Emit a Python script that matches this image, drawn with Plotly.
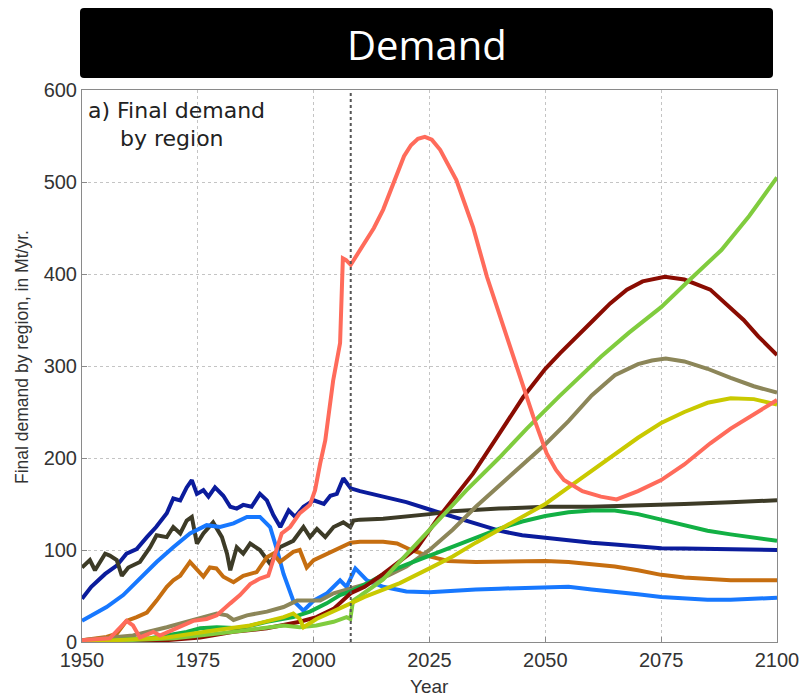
import plotly.graph_objects as go

# ---------------- data ----------------
TITLE = "Demand"
X_TICKS = [1950, 1975, 2000, 2025, 2050, 2075, 2100]
Y_TICKS = [0, 100, 200, 300, 400, 500, 600]

blue_dark_x = [1950, 1952, 1955, 1957.5, 1959.6, 1961.8, 1964, 1966, 1968.3, 1969.7, 1971.2, 1972.6, 1973.7,
               1974.8, 1976.2, 1977.3, 1978.7, 1980.5, 1982, 1983.4, 1984.8, 1986.6, 1988.4, 1989.9, 1991.3,
               1992.8, 1994.6, 1996, 1997.8, 2000, 2002.2, 2003.6, 2005, 2006.4, 2008,
               2010, 2015, 2020, 2025, 2030, 2035, 2040, 2045, 2050, 2055, 2060, 2065, 2070, 2075, 2080,
               2085, 2090, 2095, 2100]
blue_dark_y = [47, 60, 74, 83, 96, 101, 114, 125, 140, 156, 154, 168, 176,
               161, 165, 158, 168, 159, 147, 145, 149, 147, 161, 154, 138,
               125, 143, 136, 147, 154, 150, 159, 161, 178, 167,
               164, 158, 152, 144, 136, 128, 121, 116, 113, 110, 108, 106, 104, 102, 101.5,
               101, 100.5, 100, 100]

olive_x = [1950, 1951.7, 1952.8, 1953.9, 1955, 1956, 1957.5, 1958.6, 1960, 1962.5, 1964.7, 1966.1, 1968.3,
           1969.7, 1971.2, 1972.6, 1973.7, 1974.8, 1976.2, 1978.3, 1980.2, 1981.3, 1982, 1983.4, 1984.8,
           1986.3, 1988.4, 1990.6, 1992.7, 1995.6, 1997.8, 1999.2, 2000.7, 2002.5, 2004.3, 2006.4, 2007.9,
           2008.6, 2010, 2015, 2020, 2025, 2030, 2035, 2040, 2045, 2050, 2060, 2070, 2080, 2090, 2100]
olive_y = [81, 89, 78, 87, 96, 94, 89, 72, 81, 87, 103, 116, 114,
           125, 118, 132, 136, 107, 118, 130, 114, 96, 78, 103, 96,
           107, 100, 85, 103, 110, 125, 114, 123, 114, 125, 130, 125,
           132, 133, 134, 136, 139, 142, 144, 145, 146, 147, 147, 148, 150, 152, 154]

blue_light_x = [1950, 1955.3, 1958.9, 1962.5, 1966.1, 1969.7, 1973.3, 1976.9, 1979.8, 1982.7, 1985.6, 1988.4,
                1990.6, 1992.1, 1993.5, 1995.6, 1997.8, 2000, 2002.9, 2005.7, 2007.1, 2009, 2011.5, 2015,
                2020, 2025, 2030, 2035, 2040, 2045, 2050, 2055, 2060, 2065, 2070, 2075, 2080, 2085, 2090,
                2095, 2100]
blue_light_y = [23, 38, 51, 69, 87, 103, 118, 127, 125, 129, 136, 136,
                125, 100, 74, 45, 34, 45, 53, 67, 60, 80, 67, 60,
                55, 54, 56, 57, 58, 59, 60, 60, 57, 55, 52, 49, 47, 46, 46,
                47, 48]

orange_x = [1950, 1955.3, 1957.5, 1959.6, 1961.8, 1964, 1966.1, 1968.3, 1969.7, 1971.2, 1973.3, 1974.8, 1976.2,
            1977.6, 1979, 1980.5, 1982.7, 1984.8, 1987.7, 1989.9, 1991.3, 1992.7, 1995.6, 1997, 1998.5, 2000,
            2002.9, 2005.7, 2008, 2010, 2015, 2018, 2021, 2025, 2029, 2035, 2040, 2045, 2050, 2055, 2060,
            2065, 2070, 2075, 2080, 2085, 2090, 2095, 2100]
orange_y = [2, 5.5, 9, 23, 27, 32, 45, 60, 67, 72, 87, 78, 71,
            81, 80, 71, 65, 72, 76, 92, 96, 87, 98, 100, 81, 89,
            96, 103, 108, 109, 109, 107, 100, 93, 88, 87, 87.5, 88, 88, 87, 85,
            82, 78, 73, 70, 68, 67, 67, 67]

salmon_x = [1950, 1956, 1959.6, 1961, 1962.5, 1965.4, 1966.8, 1969.7, 1971.9, 1974, 1976.9, 1979.1, 1982,
            1984.1, 1986.3, 1988.4, 1990.2, 1992, 1993.1, 1994.9, 1997, 1999.2, 2000.3, 2001.4, 2002.5,
            2004.2, 2005.7, 2006.3, 2007, 2008, 2011, 2013, 2015, 2017.6, 2019.5, 2021, 2022.5, 2024,
            2025.5, 2027.3, 2029, 2030.8, 2032.5, 2034.4, 2037.4, 2040.2, 2043.8, 2047.4, 2050.3, 2052.3,
            2054, 2058, 2062, 2065.4, 2070, 2075, 2080, 2085.6, 2090, 2095, 2100]
salmon_y = [2, 4, 23, 18, 5, 11, 7, 13, 18, 23, 25, 29, 42,
            51, 63, 69, 72, 100, 118, 125, 140, 149, 165, 194, 219,
            284, 325, 417, 415, 410, 434, 450, 470, 505, 528, 540, 547, 549,
            546, 535, 520, 502, 478, 451, 397, 354, 299, 245, 205, 187,
            176, 164, 158, 155, 164, 176, 193, 216, 232, 248, 263]

darkred_x = [1950, 1968.3, 1975.5, 1982.7, 1989.9, 1997, 2000.6, 2004.3, 2008, 2011, 2015, 2020, 2022.3,
             2026.6, 2030, 2034.4, 2040, 2045.2, 2050, 2053.2, 2060.4, 2064, 2067.6, 2071, 2075.8, 2080,
             2085.6, 2089, 2092.8, 2096, 2100]
darkred_y = [0, 2, 5, 11, 15, 22, 27, 36, 53, 60, 74, 93, 102,
             133, 155, 183, 226, 266, 297, 314, 350, 368, 383, 392, 397, 394,
             383, 368, 350, 332, 312]

lightgreen_x = [1950, 1970, 1982.7, 1993.5, 1997, 2000.6, 2004.3, 2007.1, 2007.9, 2008.5, 2010, 2015, 2020,
                2025, 2030, 2033, 2040, 2046, 2053, 2062, 2068, 2075, 2081, 2088, 2094, 2100]
lightgreen_y = [0, 4, 11, 18, 16, 18, 22, 27, 25, 45, 50, 68, 95,
                122, 148, 165, 200, 232, 267, 310, 336, 364, 393, 426, 463, 505]

khaki_x = [1950, 1961, 1968.3, 1974, 1979.1, 1981.3, 1982.7, 1985.6, 1989.9, 1993.5, 1996.4, 1998.5, 2001.4,
           2004.3, 2008, 2012, 2016, 2020, 2025, 2030, 2035, 2040, 2045, 2050, 2055, 2060, 2065, 2070,
           2073, 2076, 2080, 2085, 2090, 2095, 2100]
khaki_y = [2, 7, 16, 24, 31, 29, 24, 29, 33, 38, 45, 45, 45,
           53, 58, 64, 72, 82, 100, 122, 147, 170, 193, 215, 240, 268, 290, 302,
           306, 308, 305, 297, 287, 278, 271]

green_x = [1950, 1964.7, 1972.6, 1975.5, 1979.1, 1984.1, 1989.9, 1995.6, 1999.2, 2002.8, 2005.7, 2008,
           2012, 2016, 2020, 2025, 2030, 2035, 2040, 2045, 2050, 2055, 2060, 2065, 2070, 2075, 2080, 2085,
           2090, 2095, 2100]
green_y = [0, 4, 11, 15, 16, 15, 22, 27, 33, 42, 51, 55,
           65, 76, 84, 94, 104, 114, 123, 131, 137, 141, 143, 143, 139, 133, 127, 121,
           117, 113, 110]

yellow_x = [1950, 1968.3, 1979.1, 1986.3, 1993.5, 1995.6, 1997, 1997.8, 2000.6, 2004.3, 2008, 2011, 2015,
            2018.6, 2025, 2030, 2035, 2040, 2045, 2050, 2055, 2060, 2065, 2070, 2075, 2080, 2085, 2090,
            2095, 2100]
yellow_y = [0, 5, 13, 18, 27, 31, 25, 16, 25, 34, 42, 49, 57,
            64, 80, 93, 108, 122, 137, 150, 168, 186, 205, 222, 238, 250, 260, 265,
            264, 258]

series = [
    ("Region 1", blue_dark_x, blue_dark_y, "#0b1c9c"),
    ("Region 2", olive_x, olive_y, "#3d3b27"),
    ("Region 3", blue_light_x, blue_light_y, "#1778ff"),
    ("Region 4", orange_x, orange_y, "#c66e10"),
    ("Region 5", khaki_x, khaki_y, "#8c8659"),
    ("Region 6", green_x, green_y, "#12b044"),
    ("Region 7", darkred_x, darkred_y, "#8a0c02"),
    ("Region 8", lightgreen_x, lightgreen_y, "#80cc3e"),
    ("Region 9", yellow_x, yellow_y, "#c9c900"),
    ("Region 10", salmon_x, salmon_y, "#ff6b5b"),
]

# ---------------- figure ----------------
L, R, T, B = 82, 29, 90, 55
W, H = 806, 697
PW, PH = W - L - R, H - T - B


def px(xp):
    return (xp - L) / PW


def py(yp):
    return (H - B - yp) / PH


fig = go.Figure()
for name, xs, ys, col in series:
    fig.add_trace(go.Scatter(x=xs, y=ys, mode="lines", name=name,
                             line=dict(color=col, width=4), showlegend=False))

axis_common = dict(showline=True, linecolor="#8a8a8a", linewidth=1, mirror=True,
                   showgrid=True, gridcolor="#c4c4c4", griddash="dot", gridwidth=1,
                   ticks="inside", ticklen=5, tickcolor="#8a8a8a", zeroline=False, automargin=False,
                   tickfont=dict(family="Liberation Sans, Arial, sans-serif", size=20, color="#333333"))

fig.update_xaxes(range=[1950, 2100], tickvals=X_TICKS, **axis_common)
fig.update_yaxes(range=[0, 600], tickvals=Y_TICKS, **axis_common)

# y-axis title
fig.add_annotation(text="Final demand by region, in Mt/yr.", xref="paper", yref="paper",
                   x=px(22), y=py(357), xanchor="center", yanchor="middle", textangle=-90,
                   showarrow=False,
                   font=dict(family="Liberation Sans, Arial, sans-serif", size=17.5, color="#333333"))

# 2008 divider between history and projection
fig.add_shape(type="line", xref="x", yref="y", x0=2008, x1=2008, y0=0, y1=600,
              line=dict(color="#555555", width=2, dash="dot"))

# title banner
x0, x1, y0, y1 = px(80), px(773), py(78), py(8)
rx, ry = 4 / PW, 4 / PH
path = (f"M {x0+rx},{y0} L {x1-rx},{y0} Q {x1},{y0} {x1},{y0+ry} L {x1},{y1-ry} Q {x1},{y1} {x1-rx},{y1} "
        f"L {x0+rx},{y1} Q {x0},{y1} {x0},{y1-ry} L {x0},{y0+ry} Q {x0},{y0} {x0+rx},{y0} Z")
fig.add_shape(type="path", xref="paper", yref="paper", path=path,
              fillcolor="black", line=dict(width=0), layer="above")
fig.add_annotation(text=TITLE, xref="paper", yref="paper", x=px(427), y=py(45),
                   xanchor="center", yanchor="middle", showarrow=False,
                   font=dict(family="Open Sans, Noto Sans, sans-serif", size=40, color="white"))

# panel label
lab_font = dict(family="DejaVu Sans, Verdana, sans-serif", size=22, color="#222222")
fig.add_annotation(text="a) Final demand", xref="paper", yref="paper", x=px(86), y=py(96),
                   xanchor="left", yanchor="top", showarrow=False, font=lab_font)
fig.add_annotation(text="by region", xref="paper", yref="paper", x=px(118), y=py(124),
                   xanchor="left", yanchor="top", showarrow=False, font=lab_font)

# x-axis title
fig.add_annotation(text="Year", xref="paper", yref="paper", x=0.5, y=py(674),
                   xanchor="center", yanchor="top", showarrow=False,
                   font=dict(family="Liberation Sans, Arial, sans-serif", size=19, color="#333333"))

fig.update_layout(width=W, height=H, margin=dict(l=L, r=R, t=T, b=B),
                  paper_bgcolor="white", plot_bgcolor="white")

fig.write_html("out.html", config={"displayModeBar": False},
               post_script="document.body.style.margin='0';document.body.style.overflow='hidden';")
